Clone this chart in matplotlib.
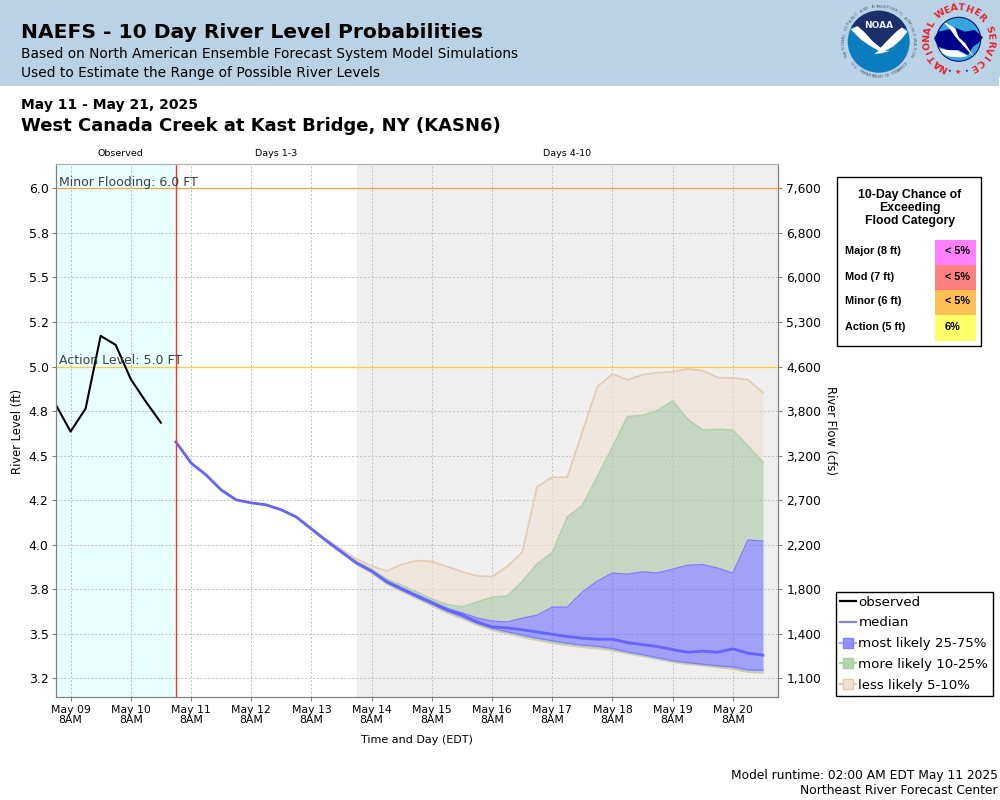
import numpy as np
import pandas as pd
import matplotlib
matplotlib.use('Agg')
import matplotlib.pyplot as plt
from matplotlib.lines import Line2D
from matplotlib.patches import Rectangle, Circle, Polygon

# river level in ft, 6-hourly
observed = [4.789, 4.635, 4.764, 5.172, 5.121, 4.929, 4.803, 4.685]

median = [4.577, 4.459, 4.392, 4.308, 4.252, 4.235, 4.224, 4.196, 4.156, 4.089,
          4.022, 3.960, 3.898, 3.853, 3.793, 3.752, 3.713, 3.674, 3.635, 3.607,
          3.567, 3.539, 3.534, 3.523, 3.511, 3.498, 3.485, 3.476, 3.470, 3.470,
          3.451, 3.440, 3.429, 3.412, 3.397, 3.403, 3.397, 3.416, 3.392, 3.381]
p95 = [4.577, 4.459, 4.392, 4.308, 4.252, 4.235, 4.224, 4.196, 4.156, 4.092,
       4.030, 3.975, 3.920, 3.881, 3.853, 3.889, 3.911, 3.906, 3.878, 3.849,
       3.825, 3.821, 3.878, 3.956, 4.326, 4.379, 4.379, 4.633, 4.887, 4.958,
       4.925, 4.954, 4.966, 4.970, 4.986, 4.977, 4.938, 4.936, 4.926, 4.854]
p90 = [4.577, 4.459, 4.392, 4.308, 4.252, 4.235, 4.224, 4.196, 4.156, 4.091,
       4.026, 3.966, 3.905, 3.862, 3.808, 3.772, 3.735, 3.695, 3.665, 3.652,
       3.678, 3.706, 3.712, 3.793, 3.893, 3.956, 4.155, 4.220, 4.382, 4.547,
       4.719, 4.725, 4.753, 4.807, 4.704, 4.643, 4.648, 4.643, 4.555, 4.463]
p75 = [4.577, 4.459, 4.392, 4.308, 4.252, 4.235, 4.224, 4.196, 4.156, 4.090,
       4.024, 3.963, 3.900, 3.857, 3.798, 3.758, 3.720, 3.682, 3.645, 3.618,
       3.590, 3.572, 3.567, 3.588, 3.605, 3.650, 3.650, 3.734, 3.796, 3.841,
       3.835, 3.848, 3.842, 3.863, 3.885, 3.889, 3.869, 3.841, 4.027, 4.020]
p25 = [4.577, 4.459, 4.392, 4.308, 4.252, 4.235, 4.224, 4.196, 4.156, 4.088,
       4.020, 3.957, 3.895, 3.848, 3.788, 3.746, 3.707, 3.668, 3.629, 3.597,
       3.560, 3.532, 3.513, 3.494, 3.476, 3.461, 3.448, 3.437, 3.431, 3.418,
       3.399, 3.384, 3.367, 3.350, 3.339, 3.330, 3.321, 3.315, 3.298, 3.296]
p10 = [4.577, 4.459, 4.392, 4.308, 4.252, 4.235, 4.224, 4.196, 4.156, 4.087,
       4.019, 3.955, 3.892, 3.844, 3.783, 3.741, 3.702, 3.662, 3.622, 3.590,
       3.553, 3.525, 3.506, 3.486, 3.468, 3.452, 3.440, 3.430, 3.423, 3.411,
       3.392, 3.377, 3.360, 3.344, 3.333, 3.325, 3.315, 3.308, 3.288, 3.286]
p5 = [4.577, 4.459, 4.392, 4.308, 4.252, 4.235, 4.224, 4.196, 4.156, 4.086,
      4.018, 3.953, 3.889, 3.841, 3.779, 3.737, 3.697, 3.657, 3.617, 3.585,
      3.548, 3.520, 3.500, 3.480, 3.462, 3.446, 3.434, 3.424, 3.416, 3.405,
      3.388, 3.373, 3.356, 3.340, 3.329, 3.320, 3.310, 3.301, 3.284, 3.281]

level_ticks = [6.0, 5.75, 5.5, 5.25, 5.0, 4.75, 4.5, 4.25, 4.0, 3.75, 3.5, 3.25]
level_labels = ['6.0', '5.8', '5.5', '5.2', '5.0', '4.8', '4.5', '4.2', '4.0', '3.8', '3.5', '3.2']
flow_labels = ['7,600', '6,800', '6,000', '5,300', '4,600', '3,800', '3,200',
               '2,700', '2,200', '1,800', '1,400', '1,100']

categories = ['Major (8 ft)', 'Mod (7 ft)', 'Minor (6 ft)', 'Action (5 ft)']
chances = ['< 5%', '< 5%', '< 5%', '6%']
chance_colors = ['#ff80ff', '#ff8080', '#ffc055', '#ffff66']

obs_time = pd.date_range('2025-05-09 02:00', periods=len(observed), freq='6h')
fcst_time = pd.date_range('2025-05-11 02:00', periods=len(median), freq='6h')
day_ticks = pd.date_range('2025-05-09 08:00', periods=12, freq='D')

W, H = 1000, 800
fig = plt.figure(figsize=(10, 8), dpi=100)

ax = fig.add_axes([55.5 / W, 1 - 697 / H, (778 - 55.5) / W, (697 - 164) / H])
ax.set_xlim(pd.Timestamp('2025-05-09 02:00'), pd.Timestamp('2025-05-21 02:00'))
ax.set_ylim(3.146, 6.136)

# period backgrounds
ax.axvspan(pd.Timestamp('2025-05-09 02:00'), pd.Timestamp('2025-05-11 02:00'), color='#e8ffff', lw=0, zorder=0)
ax.axvspan(pd.Timestamp('2025-05-14 02:00'), pd.Timestamp('2025-05-21 02:00'), color='#efefef', lw=0, zorder=0)

tan, tan_edge = '#eedfd0', '#e3cbb0'
green, green_edge = '#a9c8a4', '#b5d0aa'
blue, blue_edge = '#5555ff', '#8080ff'

ax.fill_between(fcst_time, p90, p95, color=tan, alpha=0.6, lw=0, zorder=2)
ax.fill_between(fcst_time, p5, p10, color=tan, alpha=0.6, lw=0, zorder=2)
ax.fill_between(fcst_time, p75, p90, color=green, alpha=0.6, lw=0, zorder=2)
ax.fill_between(fcst_time, p10, p25, color=green, alpha=0.6, lw=0, zorder=2)
ax.fill_between(fcst_time, p25, p75, color=blue, alpha=0.5, lw=0, zorder=2)
ax.plot(fcst_time, p95, color=tan_edge, lw=1.2, zorder=3)
ax.plot(fcst_time, p5, color=tan_edge, lw=0.9, zorder=3)
ax.plot(fcst_time, p90, color=green_edge, lw=1.2, zorder=3)
ax.plot(fcst_time, p10, color=green_edge, lw=0.9, zorder=3)
ax.plot(fcst_time, p75, color=blue_edge, lw=1.0, zorder=3)
ax.plot(fcst_time, p25, color=blue_edge, lw=1.0, zorder=3)
ax.plot(fcst_time, median, color='#6464ff', lw=2.0, zorder=4)
ax.plot(obs_time, observed, color='black', lw=1.5, zorder=4)

ax.axhline(6.0, color='#ffa040', lw=0.9, zorder=3)
ax.axhline(5.0, color='#ffcc33', lw=0.9, zorder=3)
ax.axvline(pd.Timestamp('2025-05-11 02:00'), color='#ff3030', lw=1.0, zorder=5)
ax.text(pd.Timestamp('2025-05-09 03:30'), 5.997, 'Minor Flooding: 6.0 FT', fontsize=9, color='#404040', va='bottom', zorder=6)
ax.text(pd.Timestamp('2025-05-09 03:30'), 4.997, 'Action Level: 5.0 FT', fontsize=9, color='#404040', va='bottom', zorder=6)

ax.set_axisbelow(True)
ax.grid(True, color='#c0c0c0', ls=(0, (2, 2)), lw=0.7)
ax.set_yticks(level_ticks)
ax.set_yticklabels(level_labels, fontsize=9)
ax.set_xticks(day_ticks)
ax.set_xticklabels([d.strftime('%b %d') + '\n8AM' for d in day_ticks], fontsize=7.8, linespacing=1.08)
ax.tick_params(length=3, width=0.8, color='#808080', pad=2)
ax.tick_params(axis='x', pad=2.5)

ax2 = ax.twinx()
ax2.set_ylim(ax.get_ylim())
ax2.set_yticks(level_ticks)
ax2.set_yticklabels(flow_labels, fontsize=8.8)
ax2.tick_params(length=3, width=0.8, color='#808080', pad=3)

for a in (ax, ax2):
    a.spines['top'].set_color('#b0b0b0')
    a.spines['right'].set_color('#808080')
    a.spines['left'].set_color('#808080')
    a.spines['bottom'].set_color('#808080')

# overlay in figure pixels for the page furniture
page = fig.add_axes([0, 0, 1, 1], zorder=10)
page.set_xlim(0, W)
page.set_ylim(H, 0)
page.axis('off')
page.patch.set_alpha(0)

page.add_patch(Rectangle((0, 0), W, 85.5, color='#bad2e5', lw=0, zorder=0))
page.add_patch(Rectangle((998.5, 77), 1.5, 9, color='white', lw=0, zorder=0))
page.text(21, 33, 'NAEFS - 10 Day River Level Probabilities', fontsize=14.55, fontweight='bold', va='center')
page.text(21, 54, 'Based on North American Ensemble Forecast System Model Simulations', fontsize=9.87, va='center')
page.text(21, 73, 'Used to Estimate the Range of Possible River Levels', fontsize=9.87, va='center')
page.text(21, 105, 'May 11 - May 21, 2025', fontsize=10, fontweight='bold', va='center')
page.text(21, 126, 'West Canada Creek at Kast Bridge, NY (KASN6)', fontsize=13, fontweight='bold', va='center')

page.text(120, 154, 'Observed', fontsize=6.8, ha='center', va='center')
page.text(276, 154, 'Days 1-3', fontsize=6.8, ha='center', va='center')
page.text(567, 154, 'Days 4-10', fontsize=6.8, ha='center', va='center')
page.text(18, 431, 'River Level (ft)', fontsize=8.3, rotation=90, ha='center', va='center')
page.text(831, 431, 'River Flow (cfs)', fontsize=8.3, rotation=270, ha='center', va='center')
page.text(417, 740, 'Time and Day (EDT)', fontsize=8, ha='center', va='center')
page.text(998, 775, 'Model runtime: 02:00 AM EDT May 11 2025', fontsize=8.8, ha='right', va='center')
page.text(998, 791, 'Northeast River Forecast Center', fontsize=8.8, ha='right', va='center')

# flood category table
page.add_patch(Rectangle((836.5, 176.5), 144, 169, fc='white', ec='black', lw=1))
page.text(910, 208, '10-Day Chance of\nExceeding\nFlood Category', fontsize=8.8, fontweight='bold',
          family='Liberation Sans', ha='center', va='center', linespacing=1.15)
for i, (cat, pct, col) in enumerate(zip(categories, chances, chance_colors)):
    top = 240 + i * 25
    page.add_patch(Rectangle((935, top), 41, 26 if i == 3 else 25, color=col, lw=0))
    page.text(845, top + 11.5, cat, fontsize=7.8, fontweight='bold', family='Liberation Sans', va='center')
    page.text(945, top + 11.5, pct, fontsize=7.8, fontweight='bold', family='Liberation Sans', va='center')

# legend
handles = [
    Line2D([], [], color='black', lw=1.6),
    Line2D([], [], color='#8080ff', lw=1.6),
    Line2D([], [], color='#a8a8ff', lw=1.6, marker='s', ms=6.5, mfc='#9090ff', mec='#8080ff'),
    Line2D([], [], color='#b5d0aa', lw=1.6, marker='s', ms=6.5, mfc='#b8d4b0', mec='#a8cca0'),
    Line2D([], [], color='#e3cbb0', lw=1.6, marker='s', ms=6.5, mfc='#efe2d4', mec='#e3cbb0'),
]
page.legend(handles, ['observed', 'median', 'most likely 25-75%', 'more likely 10-25%', 'less likely 5-10%'],
            loc='upper left', bbox_to_anchor=(835.5 / W, 1 - 591.5 / H), bbox_transform=fig.transFigure,
            fontsize=9.6, frameon=True, fancybox=False, framealpha=1, edgecolor='black',
            borderaxespad=0, borderpad=0.32, labelspacing=0.58, handlelength=1.2, handletextpad=0.2)


def ring_text(s, cx, cy, r, start, end, flip=False, **kw):
    # characters along an arc, angles in degrees clockwise from the top
    for ch, ang in zip(s, np.linspace(start, end, len(s))):
        t = np.radians(ang)
        page.text(cx + r * np.sin(t), cy - r * np.cos(t), ch, rotation=-(ang - 180 if flip else ang),
                  ha='center', va='center', rotation_mode='anchor', **kw)


def logo_pts(pts, x0, y0):
    return [(x0 + zx / 3, y0 + zy / 3) for zx, zy in pts]


# NOAA logo
nx, ny = 878.7, 41.7
noaa_disc = Circle((nx, ny), 31, color='#0a7cc0', lw=0)
page.add_patch(noaa_disc)
navy = Polygon(logo_pts([(25, 85), (60, 80), (100, 125), (125, 145), (150, 125), (190, 85), (220, 85),
                         (220, 15), (25, 15)], 838, 0), color='#1b2f6b', lw=0)
page.add_patch(navy)
navy.set_clip_path(noaa_disc)
page.add_patch(Polygon(logo_pts([(38, 88), (58, 78), (78, 95), (105, 125), (128, 143), (150, 120), (175, 95),
                                 (192, 82), (208, 95), (190, 118), (165, 140), (140, 153), (158, 152),
                                 (130, 160), (108, 162), (122, 152), (100, 140), (70, 120), (50, 100)], 838, 0),
                       color='white', lw=0))
page.text(nx, 26, 'NOAA', color='#e8eef8', fontsize=6.5, fontweight='bold', ha='center', va='center')
ring_text('NATIONAL OCEANIC AND ATMOSPHERIC ADMINISTRATION', nx, ny, 35, -112, 112,
          fontsize=3, color='#4a5a70')
ring_text('U.S. DEPARTMENT OF COMMERCE', nx, ny, 35, 232, 128, flip=True, fontsize=3, color='#4a5a70')

# NWS logo
wx, wy = 958.7, 39.3
nws_disc = Circle((wx, wy), 22, color='#36a6dc', lw=0)
page.add_patch(nws_disc)
page.add_patch(Polygon(logo_pts([(60, 145), (90, 150), (120, 152), (150, 168), (130, 172), (95, 170), (70, 160)],
                                918, 0), color='white', lw=0))
page.add_patch(Polygon(logo_pts([(48, 115), (60, 95), (85, 90), (110, 82), (140, 95), (170, 90), (195, 112),
                                 (180, 130), (165, 140), (150, 165), (120, 150), (90, 150), (60, 140)], 918, 0),
                       color='#00008b', lw=0))
page.add_patch(Polygon(logo_pts([(72, 62), (112, 85), (122, 112), (142, 130), (168, 172), (125, 125),
                                 (112, 110), (98, 90)], 918, 0), color='white', lw=0))
page.add_patch(Circle((wx, wy), 22, fill=False, ec='#101080', lw=0.8))
red = '#e8242c'
ring_text('NATIONAL', wx, wy, 31.5, -152, -62, fontsize=6.8, fontweight='bold', color=red)
ring_text('WEATHER', wx, wy, 31.5, -36, 47, fontsize=6.8, fontweight='bold', color=red)
ring_text('SERVICE', wx, wy, 31.5, 71, 151, fontsize=6.8, fontweight='bold', color=red)
page.text(958, 71.5, '★', color=red, fontsize=5, ha='center', va='center')
page.text(949.5, 71, '★', color='#101080', fontsize=3, ha='center', va='center')
page.text(966.5, 71, '★', color='#101080', fontsize=3, ha='center', va='center')

fig.savefig('out.png', dpi=100)
